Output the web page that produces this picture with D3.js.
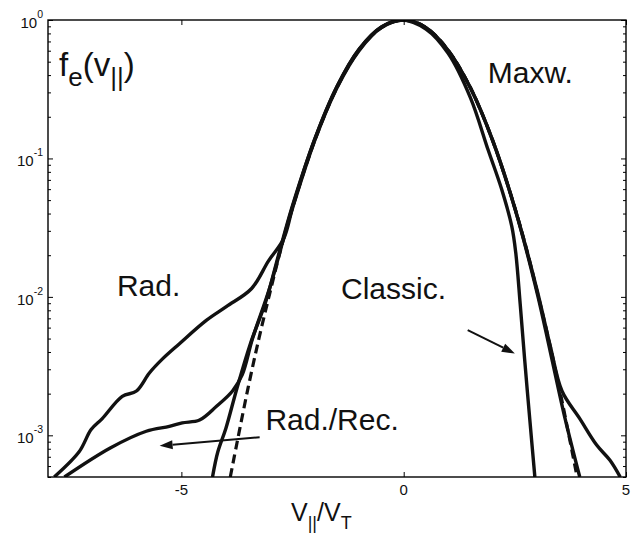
<!DOCTYPE html>
<html><head><meta charset="utf-8">
<script src="https://cdn.jsdelivr.net/npm/d3@7"></script>
<style>body{margin:0;background:#fff}svg{display:block}</style>
</head><body><svg id="c" width="638" height="545"></svg>
<script>
// ---- data ----
const xTicks = [-5, 0, 5];
const xTickLabels = ["-5", "0", "5"];
const yMajor = [1e-3, 1e-2, 1e-1, 1];
const yMajorExp = ["-3", "-2", "-1", "0"];

// Maxwellian (dashed)
const maxwV = [-3.9,-3.75,-3.5,-3.25,-3.0,-2.75,-2.5,-2.25,-2.0,-1.75,-1.5,-1.25,-1.0,-0.75,-0.5,-0.25,0,0.25,0.5,0.75,1.0,1.25,1.5,1.75,2.0,2.25,2.5,2.75,3.0,3.25,3.5,3.75,3.9];
const maxwF = [5.0e-4,8.8e-4,2.2e-3,5.1e-3,1.1e-2,2.3e-2,4.4e-2,7.9e-2,0.135,0.216,0.325,0.458,0.607,0.755,0.882,0.969,1,0.969,0.882,0.755,0.607,0.458,0.325,0.216,0.135,7.9e-2,4.4e-2,2.3e-2,1.1e-2,5.1e-3,2.2e-3,8.8e-4,5.0e-4];

// Classic
const classicV = [-4.30,-4.18,-4.0,-3.75,-3.45,-3.1,-2.8,-2.5,-2.0,-1.5,-1.0,-0.5,-0.05,0.5,1.0,1.5,1.9,2.2,2.43,2.52,2.62,2.72,2.84,2.95];
const classicF = [5.0e-4,7.6e-4,1.12e-3,2.19e-3,4.57e-3,9.3e-3,2.09e-2,4.57e-2,0.138,0.331,0.617,0.891,1,0.861,0.575,0.275,0.115,6.03e-2,3.24e-2,2.09e-2,8.9e-3,3.55e-3,1.26e-3,5.0e-4];

// Rad.
const radV = [-7.86,-7.30,-7.03,-6.78,-6.33,-6.01,-5.72,-5.43,-5.05,-4.44,-3.99,-3.42,-3.04,-2.7,-2.5,-2.0,-1.5,-1.0,-0.5,0,0.5,1.0,1.5,2.0,2.5,3.0,3.3,3.56,3.96,4.34,4.64,4.87];
const radF = [5.0e-4,7.6e-4,1.10e-3,1.32e-3,1.91e-3,2.09e-3,2.82e-3,3.55e-3,4.57e-3,6.76e-3,8.5e-3,1.15e-2,1.82e-2,2.63e-2,4.37e-2,0.135,0.324,0.603,0.881,1,0.881,0.603,0.324,0.135,4.37e-2,1.12e-2,4.37e-3,2.09e-3,1.32e-3,8.5e-4,6.6e-4,5.0e-4];

// Rad./Rec.
const recV = [-7.63,-6.6,-5.79,-5.27,-4.98,-4.59,-4.21,-3.85,-3.63,-3.4,-3.0,-2.5,-2.0,-1.5,-1.0,-0.5,0,0.5,1.0,1.5,2.0,2.5,3.0,3.3,3.63,3.96];
const recF = [5.0e-4,8.1e-4,1.07e-3,1.16e-3,1.23e-3,1.29e-3,1.62e-3,2.09e-3,2.75e-3,5.0e-3,1.20e-2,4.47e-2,0.138,0.331,0.617,0.891,1,0.881,0.603,0.324,0.135,4.37e-2,1.07e-2,3.98e-3,1.32e-3,5.0e-4];

// annotations (data coordinates)
const annTexts = ["Maxw.", "Rad.", "Classic.", "Rad./Rec."];
const annV = [1.89, -6.45, -1.41, -3.11];
const annF = [0.35, 1.02e-2, 9.7e-3, 1.1e-3];
// arrows
const arrowFromV = [-3.24, 1.44];
const arrowFromF = [9.7e-4, 5.75e-3];
const arrowToV = [-5.49, 2.5];
const arrowToF = [8.4e-4, 3.9e-3];

// ---- layout ----
const L = 48, R = 626, T = 20, B = 477;
const FONT = "'Liberation Sans', Arial, Helvetica, sans-serif";
const svg = d3.select("#c");
const x = d3.scaleLinear().domain([-8, 5]).range([L, R]);
const y = d3.scaleLog().domain([5e-4, 1]).range([B, T]);

svg.append("defs").append("clipPath").attr("id","clip")
  .append("rect").attr("x",L).attr("y",T).attr("width",R-L).attr("height",B-T);

// curves
const line = d3.line().x(d => x(d[0])).y(d => y(d[1])).curve(d3.curveCatmullRom.alpha(0.5));
const g = svg.append("g").attr("clip-path","url(#clip)");
function series(V, F) { return V.map((v, i) => [v, F[i]]); }
g.append("path").attr("d", line(series(maxwV, maxwF)))
  .attr("fill","none").attr("stroke","#111").attr("stroke-width",3.2).attr("stroke-dasharray","9,5");
[[classicV, classicF],[radV, radF],[recV, recF]].forEach(([V,F]) => {
  g.append("path").attr("d", line(series(V, F)))
    .attr("fill","none").attr("stroke","#111").attr("stroke-width",3.4)
    .attr("stroke-linejoin","round").attr("stroke-linecap","butt");
});

// axes
const minor = y.ticks().filter(t => !yMajor.some(m => Math.abs(m - t) / t < 1e-6));
function styleAxis(sel) {
  sel.selectAll("path.domain").remove();
  sel.selectAll("line").attr("stroke","#000").attr("stroke-width",1);
}
svg.append("g").attr("transform",`translate(${L},0)`)
  .call(d3.axisLeft(y).tickValues(yMajor).tickSize(-5).tickFormat("")).call(styleAxis);
svg.append("g").attr("transform",`translate(${L},0)`)
  .call(d3.axisLeft(y).tickValues(minor).tickSize(-3).tickFormat("")).call(styleAxis);
svg.append("g").attr("transform",`translate(${R},0)`)
  .call(d3.axisRight(y).tickValues(yMajor).tickSize(-5).tickFormat("")).call(styleAxis);
svg.append("g").attr("transform",`translate(${R},0)`)
  .call(d3.axisRight(y).tickValues(minor).tickSize(-3).tickFormat("")).call(styleAxis);
svg.append("g").attr("transform",`translate(0,${B})`)
  .call(d3.axisBottom(x).tickValues(xTicks).tickSize(-5).tickFormat("")).call(styleAxis);
svg.append("g").attr("transform",`translate(0,${T})`)
  .call(d3.axisTop(x).tickValues(xTicks).tickSize(-5).tickFormat("")).call(styleAxis);

svg.append("rect").attr("x",L).attr("y",T).attr("width",R-L).attr("height",B-T)
  .attr("fill","none").attr("stroke","#000").attr("stroke-width",1.4);

// tick labels
xTicks.forEach((t, i) => {
  svg.append("text").attr("x", x(t)).attr("y", B + 18).attr("text-anchor","middle")
    .attr("font-family",FONT).attr("font-size",15).attr("fill","#111").text(xTickLabels[i]);
});
yMajor.forEach((t, i) => {
  const tx = svg.append("text").attr("x", L - 5).attr("y", y(t) + 8).attr("text-anchor","end")
    .attr("font-family",FONT).attr("fill","#111");
  tx.append("tspan").attr("font-size",15).text("10");
  tx.append("tspan").attr("font-size",10.5).attr("dy",-10).text(yMajorExp[i]);
});

// axis labels
const xl = svg.append("text").attr("x", 291).attr("y", 521).attr("font-family",FONT).attr("fill","#111");
xl.append("tspan").attr("font-size",25).text("V");
xl.append("tspan").attr("font-size",18).attr("dy",8).text("||");
xl.append("tspan").attr("font-size",25).attr("dy",-8).text("/V");
xl.append("tspan").attr("font-size",18).attr("dy",8).text("T");

const yl = svg.append("text").attr("x", 59).attr("y", 76).attr("font-family",FONT).attr("fill","#111");
yl.append("tspan").attr("font-size",33).text("f");
yl.append("tspan").attr("font-size",26).attr("dy",10).text("e");
yl.append("tspan").attr("font-size",33).attr("dy",-10).text("(v");
yl.append("tspan").attr("font-size",26).attr("dy",10).text("||");
yl.append("tspan").attr("font-size",33).attr("dy",-10).text(")");

// annotations
annTexts.forEach((s, i) => {
  svg.append("text").attr("x", x(annV[i])).attr("y", y(annF[i]))
    .attr("font-family",FONT).attr("font-size",30).attr("fill","#111").text(s);
});
arrowFromV.forEach((v, i) => {
  const x1 = x(v), y1 = y(arrowFromF[i]), x2 = x(arrowToV[i]), y2 = y(arrowToF[i]);
  const ang = Math.atan2(y2 - y1, x2 - x1), hl = 13, hw = 4.5;
  const bx = x2 - hl * Math.cos(ang), by = y2 - hl * Math.sin(ang);
  svg.append("line").attr("x1",x1).attr("y1",y1).attr("x2",bx).attr("y2",by)
    .attr("stroke","#111").attr("stroke-width",2);
  const px = -Math.sin(ang) * hw, py = Math.cos(ang) * hw;
  svg.append("path").attr("d",`M${x2},${y2}L${bx+px},${by+py}L${bx-px},${by-py}Z`).attr("fill","#111");
});
</script></body></html>
